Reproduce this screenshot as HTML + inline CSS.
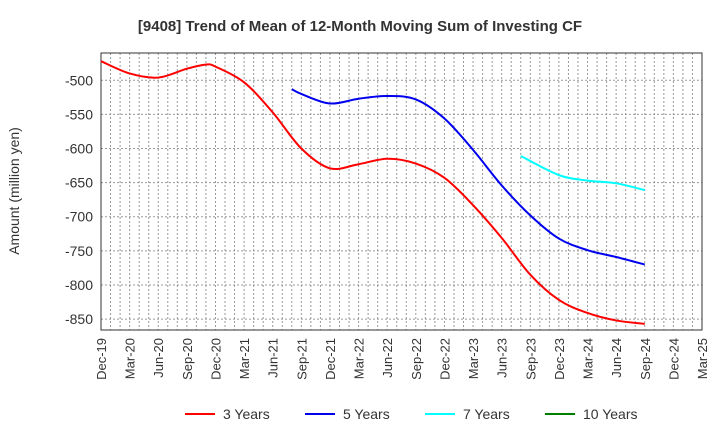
<!DOCTYPE html>
<html><head><meta charset="utf-8"><style>
body{margin:0;background:#fff;font-family:"Liberation Sans",sans-serif}
text{font-family:"Liberation Sans",sans-serif}
</style></head><body>
<svg id="c" width="720" height="440"></svg>
<script>
const xLabels=["Dec-19","Mar-20","Jun-20","Sep-20","Dec-20","Mar-21","Jun-21","Sep-21","Dec-21","Mar-22","Jun-22","Sep-22","Dec-22","Mar-23","Jun-23","Sep-23","Dec-23","Mar-24","Jun-24","Sep-24","Dec-24","Mar-25"];
const yTicks=[-500,-550,-600,-650,-700,-750,-800,-850];
const m3=[0,3,6,9,11,12,15,18,21,24,27,30,33,36,39,42,45,48,51,54,57];
const v3=[-472,-490,-496,-483,-477,-480,-503,-547,-600,-629,-623,-615,-622,-643,-683,-731,-785,-822,-841,-852,-857];
const m5=[20,21,24,27,30,33,36,39,42,45,48,51,54,57];
const v5=[-513,-520,-534,-527,-523,-528,-556,-602,-654,-698,-732,-749,-759,-770];
const m7=[44,48,51,54,57];
const v7=[-611,-639,-647,-651,-661];
const m10=[];const v10=[];
const L=101,R=702,T=53,B=330,yMin=-866,yMax=-460;
const X=m=>L+(R-L)*m/63;
const Y=v=>T+(B-T)*(yMax-v)/(yMax-yMin);
const svg=document.getElementById('c');const NS='http://www.w3.org/2000/svg';
function el(t,a,p){const e=document.createElementNS(NS,t);for(const k in a)e.setAttribute(k,a[k]);(p||svg).appendChild(e);return e;}
let t=el('text',{x:360,y:31,'text-anchor':'middle','font-size':15,'font-weight':'bold',fill:'#333'});t.textContent='[9408]  Trend of Mean of 12-Month Moving Sum of Investing CF';

for(let m=1;m<63;m++){const g=el('line',{x1:X(m),x2:X(m),y1:T,y2:B,stroke:'#999','stroke-dasharray':'2,2','stroke-width':1});}
yTicks.forEach(v=>{const g=el('line',{x1:L,x2:R,y1:Y(v),y2:Y(v),stroke:'#999','stroke-dasharray':'2,2'});
const tx=el('text',{x:L-8,y:Y(v)+5,'text-anchor':'end','font-size':14,fill:'#333'});tx.textContent=v;});
xLabels.forEach((s,i)=>{const x=X(i*3);const tx=el('text',{transform:`translate(${x+5},${B+8}) rotate(-90)`,'text-anchor':'end','font-size':13,fill:'#333'});tx.textContent=s;});
const fr=el('rect',{x:L,y:T,width:R-L,height:B-T,fill:'none',stroke:'#333'});
const yt=el('text',{transform:'translate(19,191) rotate(-90)','text-anchor':'middle','font-size':14,fill:'#333'});yt.textContent='Amount (million yen)';
function path(ms,vs){if(!ms.length)return '';const p=ms.map((m,i)=>[X(m),Y(vs[i])]);let d=`M${p[0][0]},${p[0][1]}`;
for(let i=0;i<p.length-1;i++){const p0=p[i-1]||p[i],p1=p[i],p2=p[i+1],p3=p[i+2]||p2;
d+=` C${p1[0]+(p2[0]-p0[0])/6},${p1[1]+(p2[1]-p0[1])/6} ${p2[0]-(p3[0]-p1[0])/6},${p2[1]-(p3[1]-p1[1])/6} ${p2[0]},${p2[1]}`;}return d;}
const series=[[m3,v3,'#ff0000','3 Years'],[m5,v5,'#0000ee','5 Years'],[m7,v7,'#00ffff','7 Years'],[m10,v10,'#008000','10 Years']];
const lx=[185,305,425,545];
series.forEach((s,i)=>{if(s[0].length){const p=el('path',{d:path(s[0],s[1]),fill:'none',stroke:s[2],'stroke-width':2});}
const g=el('g',{});
el('line',{x1:lx[i],x2:lx[i]+30,y1:414,y2:414,stroke:s[2],'stroke-width':2},g);
const tx=el('text',{x:lx[i]+38,y:419,'font-size':14,fill:'#333'},g);tx.textContent=s[3];});
</script></body></html>
